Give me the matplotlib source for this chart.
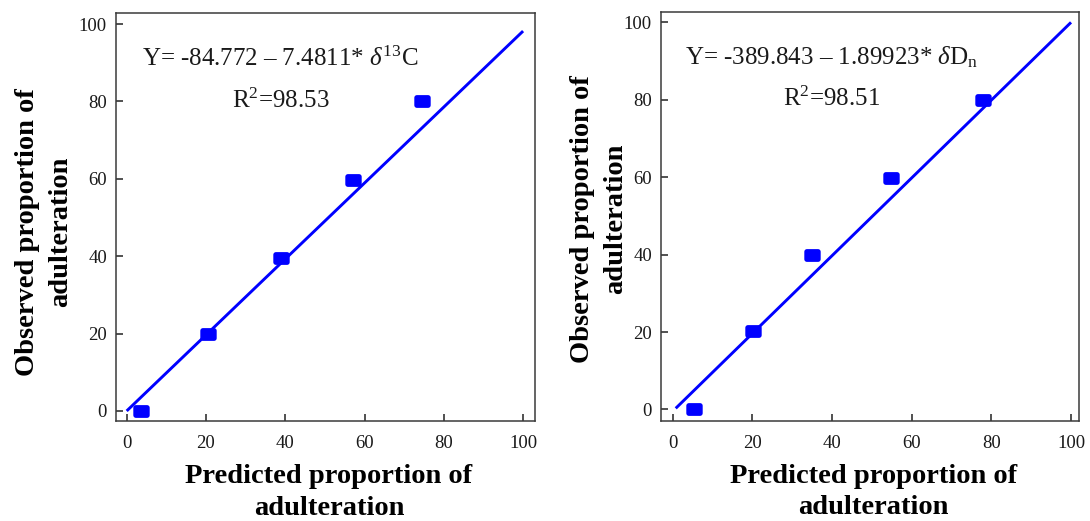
import numpy as np
import matplotlib
matplotlib.use("Agg")
import matplotlib.pyplot as plt
from matplotlib.path import Path

plt.rcParams["font.family"] = ["Liberation Serif", "DejaVu Serif"]
plt.rcParams["mathtext.fontset"] = "custom"
plt.rcParams["mathtext.rm"] = "Liberation Serif"
plt.rcParams["mathtext.it"] = "Liberation Serif:italic"
plt.rcParams["mathtext.bf"] = "Liberation Serif:bold"

# delta 13C model
c13_predicted = [3.6, 20.6, 38.9, 57.1, 74.5]
c13_observed = [0, 20, 39.6, 59.6, 80]
c13_fit_x = [0, 100]
c13_fit_y = [0, 98.2]
c13_equation = "Y= -84.772 \u2013 7.4811* $\\delta^{13}$C"
c13_r2 = "$\\mathrm{R}^{2}$=98.53"

# delta D model
dn_predicted = [5.5, 20.2, 35.0, 54.9, 77.8]
dn_observed = [0, 20.3, 39.8, 59.8, 80]
dn_fit_x = [0.8, 100]
dn_fit_y = [0.3, 100]
dn_equation = "Y= -389.843 \u2013 1.89923* $\\delta\\mathrm{D}_{\\mathrm{n}}$"
dn_r2 = "$\\mathrm{R}^{2}$=98.51"

ticks = [0, 20, 40, 60, 80, 100]
xlabel = "Predicted proportion of\nadulteration"
ylabel = "Observed proportion of\nadulteration"

BLUE = "#0000ff"
TEXT = "#1a1a1a"


def rounded_box(w, h, r, n=6):
    # rectangle with rounded corners, used as the point marker
    verts = []
    corners = [(w / 2 - r, h / 2 - r, 0), (-w / 2 + r, h / 2 - r, 90),
               (-w / 2 + r, -h / 2 + r, 180), (w / 2 - r, -h / 2 + r, 270)]
    for cx, cy, start in corners:
        for a in np.linspace(start, start + 90, n):
            t = np.radians(a)
            verts.append((cx + r * np.cos(t), cy + r * np.sin(t)))
    verts.append(verts[0])
    codes = [Path.MOVETO] + [Path.LINETO] * (len(verts) - 2) + [Path.CLOSEPOLY]
    return Path(verts, codes)


marker = rounded_box(1.0, 0.78, 0.16)

fig = plt.figure(figsize=(10.9, 5.21), dpi=100)
ax1 = fig.add_axes([0.1064, 0.1919, 0.3844, 0.7826])
ax2 = fig.add_axes([0.6064, 0.1925, 0.3835, 0.7839])

panels = [
    (ax1, c13_predicted, c13_observed, c13_fit_x, c13_fit_y, c13_equation, c13_r2,
     38.8, (-2.7, 103), (-2.6, 102.8), (-0.102, 0.4636)),
    (ax2, dn_predicted, dn_observed, dn_fit_x, dn_fit_y, dn_equation, dn_r2,
     40.0, (-2.9, 102), (-2.9, 102.6), (-0.078, 0.494)),
]

for ax, px, py, fx, fy, eq, r2, tx, xlim, ylim, ylab_xy in panels:
    ax.plot(fx, fy, color=BLUE, lw=2.1, solid_capstyle="butt", zorder=2)
    ax.plot(px, py, linestyle="none", marker=marker, markersize=11.8,
            color=BLUE, markeredgewidth=0, zorder=3)

    ax.text(tx, 89.2, eq, ha="center", va="baseline", fontsize=18, color=TEXT)
    ax.text(tx, 78.4, r2, ha="center", va="baseline", fontsize=18, color=TEXT)

    ax.set_xlim(*xlim)
    ax.set_ylim(*ylim)
    ax.set_xticks(ticks)
    ax.set_yticks(ticks)
    ax.tick_params(direction="in", length=4.8, width=1.1, labelsize=13.5,
                   colors="#222222", labelcolor=TEXT)
    ax.tick_params(axis="x", pad=10)
    ax.tick_params(axis="y", pad=6.5)
    for sp in ax.spines.values():
        sp.set_color("#3a3a3a")
        sp.set_linewidth(1.1)

    ax.set_xlabel(xlabel, fontsize=20.5, fontweight="bold", color="black",
                  linespacing=1.36)
    ax.set_ylabel(ylabel, fontsize=20.5, fontweight="bold", color="black",
                  linespacing=1.45)
    ax.xaxis.set_label_coords(0.508, -0.105)
    ax.yaxis.set_label_coords(*ylab_xy)

fig.savefig("out.png", dpi=100)
